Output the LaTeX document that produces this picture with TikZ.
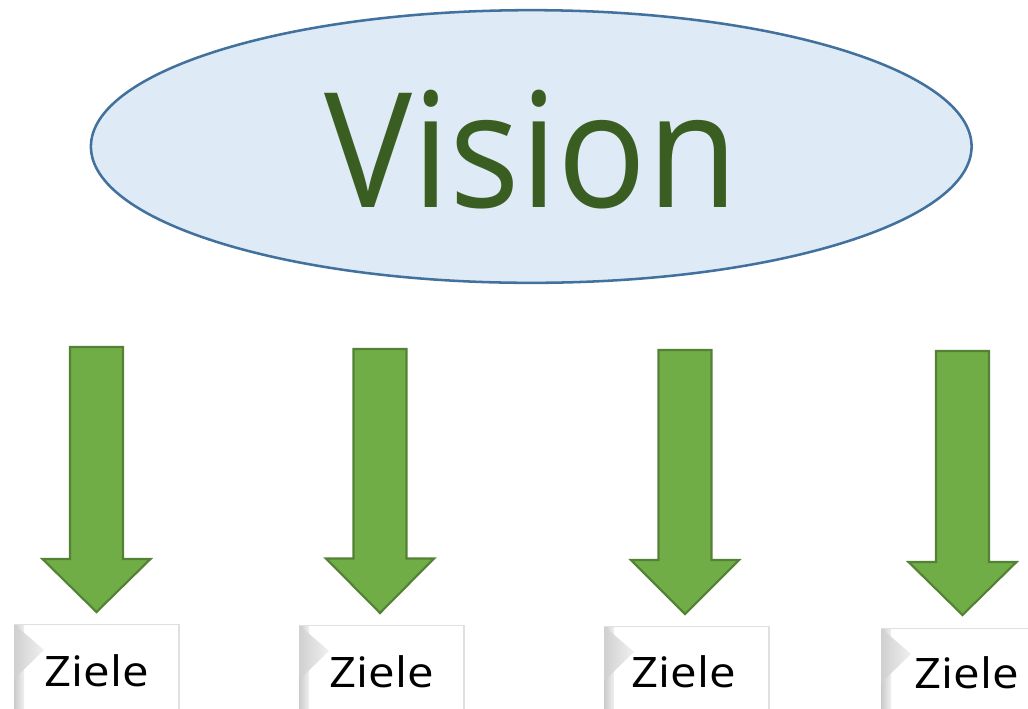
\documentclass[tikz,border=0pt]{standalone}
\usepackage{fontspec}
\setmainfont{Open Sans}
\usetikzlibrary{shapes.geometric}
\definecolor{ellfill}{HTML}{DEEBF7}
\definecolor{ellline}{HTML}{41719C}
\definecolor{arrfill}{HTML}{70AD47}
\definecolor{arrline}{HTML}{548235}
\definecolor{visiontxt}{HTML}{3A5E22}
\definecolor{bevelA}{HTML}{D0D0D0}
\definecolor{bevelB}{HTML}{F0F0F0}
\definecolor{stripA}{HTML}{CACACA}
\definecolor{boxedge}{HTML}{E0E0E0}
\begin{document}
\begin{tikzpicture}[x=0.75pt,y=-0.75pt,
  visionshape/.style={ellipse, draw=ellline, fill=ellfill, line width=1.9pt,
    minimum width=660.5pt, minimum height=204.5pt, inner sep=0pt},
  visionlabel/.style={anchor=base, inner sep=0pt, text=visiontxt, font=\fontsize{120}{120}\selectfont},
  zielelabel/.style={anchor=base, inner sep=0pt, text=black, font=\fontsize{31.5}{31.5}\selectfont},
  bigarrow/.style={fill=arrfill, draw=arrline, line width=1.6pt, line join=miter}
]
\useasboundingbox (0,0) rectangle (1028,708);
\node[visionshape] (vision) at (531.25,146.5) {};
\node[visionlabel] (visiontext) at (531,207) {\scalebox{0.925}[1]{Vision}};
% arrows
\foreach \i/\cx/\top/\hd/\tip in {1/96.5/347/559/612, 2/380/349/558.5/613, 3/685/350/560/614, 4/962.5/351/562/615}{
  \draw[bigarrow] (\cx-26.5,\top) -- (\cx+26.5,\top) -- (\cx+26.5,\hd) -- (\cx+54,\hd)
     -- (\cx,\tip) -- (\cx-54,\hd) -- (\cx-26.5,\hd) -- cycle;
}
% boxes
\foreach \i/\xo/\yo/\tx/\bl in {1/14/624/97/686, 2/299/625/382/687, 3/604/626/684/687.5, 4/881/628/967/688}{
  \fill[white] (\xo,\yo) rectangle (\xo+165,712);
  \shade[left color=stripA, right color=bevelB] (\xo,\yo) rectangle (\xo+10,712);
  \shade[left color=bevelA, right color=bevelB] (\xo,\yo) -- (\xo+30,\yo+26) -- (\xo,\yo+55) -- cycle;
  \draw[boxedge, line width=0.5pt] (\xo,\yo) -- (\xo+165,\yo);
  \draw[boxedge, line width=1.2pt] (\xo+165,\yo) -- (\xo+165,712);
  \node[zielelabel] (z\i) at (\tx,\bl) {\scalebox{1.13}[1]{Ziele}};
}
\end{tikzpicture}
\end{document}
